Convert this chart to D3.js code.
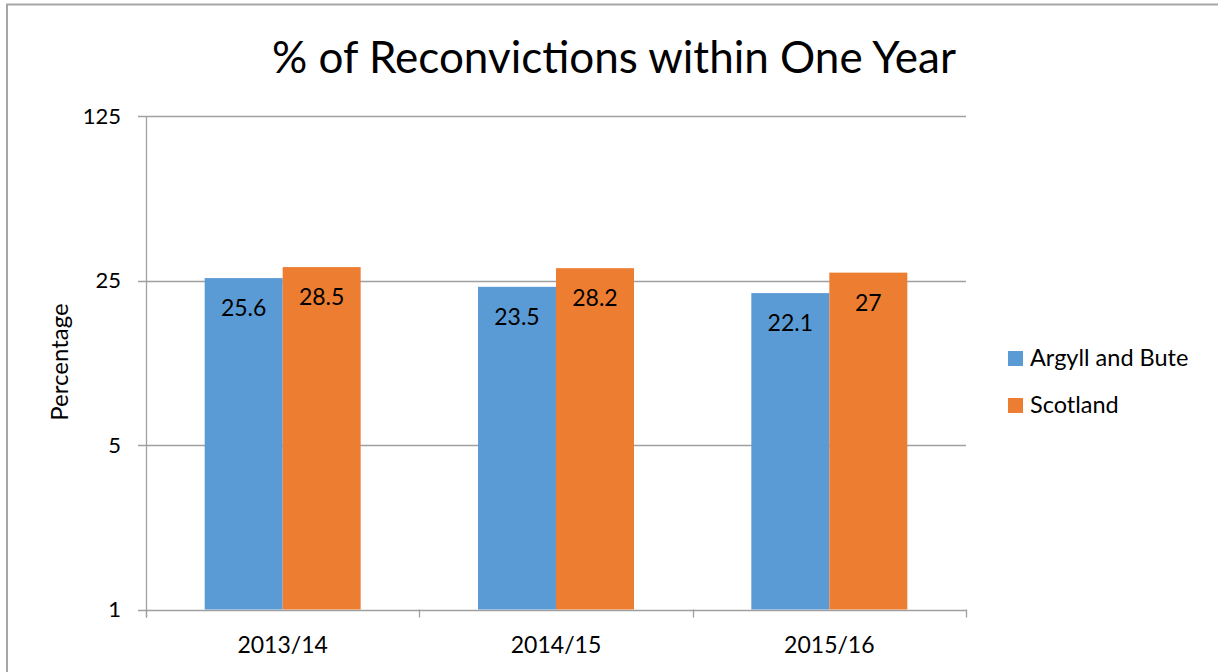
<!DOCTYPE html>
<html><head><meta charset="utf-8">
<script src="https://cdn.jsdelivr.net/npm/d3@7"></script>
<style>body{margin:0;background:#fff}svg{display:block;font-family:Lato,"Open Sans",sans-serif}</style>
</head><body><svg id="c" width="1218" height="672"></svg>
<script>
const categories = ["2013/14", "2014/15", "2015/16"];
const seriesNames = ["Argyll and Bute", "Scotland"];
const argyllValues = [25.6, 23.5, 22.1];
const scotlandValues = [28.5, 28.2, 27];
const yTicks = [1, 5, 25, 125];
const colors = ["#5B9BD5", "#ED7D31"];

const svg = d3.select("#c");
// outer border
svg.append("path").attr("d", "M7,672V4.5H1218").attr("fill", "none").attr("stroke", "#A6A6A6").attr("stroke-width", 2);

const L = 146, R = 966, T = 116, B = 609.5;
const x = d3.scaleBand().domain(categories).range([L, R]).paddingInner(0).paddingOuter(0);
const y = d3.scaleLog().base(5).domain([1, 125]).range([B, T]);

// gridlines
svg.append("g").selectAll("line").data(yTicks).join("line")
  .attr("x1", L - 8).attr("x2", R).attr("y1", d => Math.round(y(d)) + 0.5).attr("y2", d => Math.round(y(d)) + 0.5)
  .attr("stroke", "#A0A0A0").attr("stroke-width", 1.3);

// y axis line
svg.append("line").attr("x1", L + 0.5).attr("x2", L + 0.5).attr("y1", T).attr("y2", B + 8).attr("stroke", "#A0A0A0").attr("stroke-width", 1.3);

// x ticks
const bounds = categories.map(c => x(c)).concat([R]);
svg.append("g").selectAll("line").data(bounds).join("line")
  .attr("x1", d => Math.round(d) + 0.5).attr("x2", d => Math.round(d) + 0.5).attr("y1", B).attr("y2", B + 8)
  .attr("stroke", "#A0A0A0").attr("stroke-width", 1.3);

// y tick labels
svg.append("g").selectAll("text").data(yTicks).join("text")
  .attr("x", 121).attr("y", d => y(d)).attr("dy", "0.35em").attr("text-anchor", "end")
  .attr("font-size", 22).attr("fill", "#000").text(d => d);

// x labels
svg.append("g").selectAll("text").data(categories).join("text")
  .attr("x", d => x(d) + x.bandwidth() / 2).attr("y", 653).attr("text-anchor", "middle")
  .attr("font-size", 23).attr("fill", "#000").text(d => d);

// bars
const data = [argyllValues, scotlandValues];
const barW = 78;
data.forEach((vals, si) => {
  const g = svg.append("g");
  g.selectAll("rect").data(categories).join("rect")
    .attr("x", (c) => x(c) + x.bandwidth() / 2 - barW + si * barW)
    .attr("width", barW)
    .attr("y", (c, i) => y(vals[i]))
    .attr("height", (c, i) => B - y(vals[i]))
    .attr("fill", colors[si]);
  g.selectAll("text").data(categories).join("text")
    .attr("x", (c) => x(c) + x.bandwidth() / 2 - barW / 2 + si * barW)
    .attr("y", (c, i) => y(vals[i]) + 38)
    .attr("text-anchor", "middle").attr("font-size", 23).attr("fill", "#000")
    .text((c, i) => vals[i]);
});

// title
svg.append("text").attr("x", 614).attr("y", 73).attr("text-anchor", "middle")
  .attr("font-size", 44).attr("fill", "#000").text("% of Reconvictions within One Year");

// y axis title
svg.append("text").attr("transform", "translate(68,362) rotate(-90)").attr("text-anchor", "middle")
  .attr("font-size", 24).attr("fill", "#000").text("Percentage");

// legend
const lg = svg.append("g").selectAll("g").data(seriesNames).join("g")
  .attr("transform", (d, i) => `translate(1008,${351 + i * 47})`);
lg.append("rect").attr("width", 15).attr("height", 15).attr("fill", (d, i) => colors[i]);
lg.append("text").attr("x", 22).attr("y", 15).attr("font-size", 23.5).attr("fill", "#000").text(d => d);
</script></body></html>
